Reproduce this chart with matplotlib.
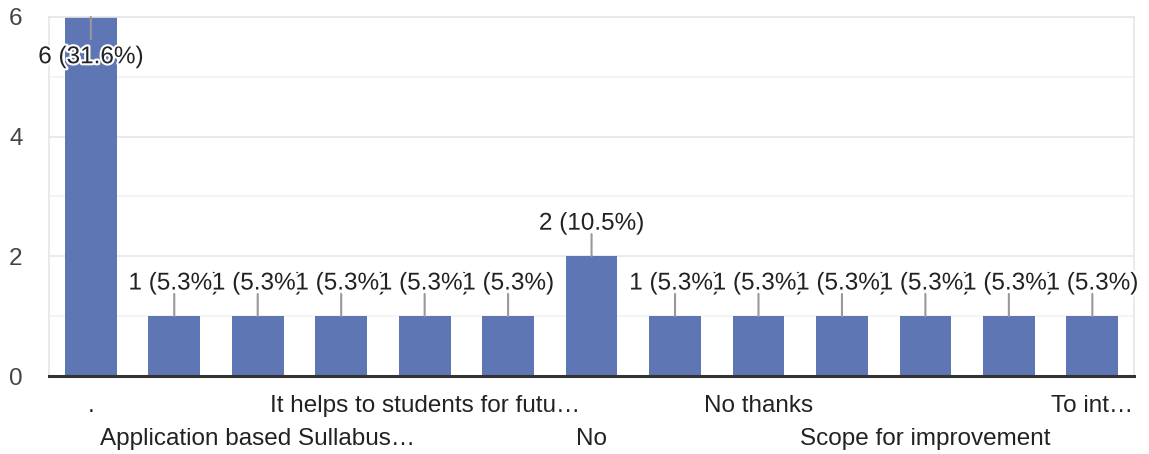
import matplotlib
matplotlib.use("Agg")
import matplotlib.pyplot as plt
import matplotlib.patheffects as pe
import matplotlib.transforms as mtransforms
import numpy as np

categories = [".", "", "Application based Sullabus…", "", "It helps to students for futu…", "",
              "No", "", "No thanks", "", "Scope for improvement", "", "To int…"]
counts = [6, 1, 1, 1, 1, 1, 2, 1, 1, 1, 1, 1, 1]
total = sum(counts)
yticks = [0, 2, 4, 6]

plt.rcParams['font.family'] = ['Liberation Sans', 'DejaVu Sans']

fig = plt.figure(figsize=(11.49, 4.54), dpi=100)
ax = fig.add_axes([0.0427, 0.1718, 0.987 - 0.0427, 0.9626 - 0.1718])

x = np.arange(len(categories))
bar_color = "#5e76b4"
ax.bar(x, counts, width=0.62, color=bar_color, zorder=2)

ax.set_xlim(-0.5, len(categories) - 0.5)
ax.set_ylim(0, 6)
ax.set_yticks(yticks)
ax.set_yticks([1, 3, 5], minor=True)
ax.grid(axis='y', which='major', color='#e6e6e6', lw=1.2, zorder=0)
ax.grid(axis='y', which='minor', color='#f2f2f2', lw=1.2, zorder=0)
ax.tick_params(axis='y', which='both', length=0, pad=19, labelsize=17.5, labelcolor='#444444')

for s in ['left', 'right', 'top']:
    ax.spines[s].set_color('#e6e6e6')
    ax.spines[s].set_linewidth(1.2)
ax.spines['bottom'].set_color('#333333')
ax.spines['bottom'].set_linewidth(2.2)
ax.spines['bottom'].set_zorder(3)

ax.set_xticks(x)
labels = [c if i % 2 == 0 else "" for i, c in enumerate(categories)]
ax.set_xticklabels(labels)
ax.tick_params(axis='x', length=0, pad=14, labelsize=17.5, labelcolor='#222222')
shift = mtransforms.ScaledTranslation(0, -0.325, fig.dpi_scale_trans)
for i, t in enumerate(ax.get_xticklabels()):
    if i % 2 == 0 and (i // 2) % 2 == 1:
        t.set_transform(t.get_transform() + shift)

ymax = max(counts)
for i, v in enumerate(counts):
    inside = v == ymax
    sign = -1 if inside else 1
    ax.annotate("", xy=(i, v), xytext=(0, sign * 16), textcoords='offset points',
                arrowprops=dict(arrowstyle='-', color='#999999', lw=1.5, shrinkA=0, shrinkB=0),
                zorder=4)
    pct = 100 * v / total
    off = -29 if inside else 23.5
    ax.annotate(f"{v} ({pct:.1f}%)", xy=(i, v), xytext=(0, off), textcoords='offset points',
                ha='center', va='center', fontsize=17.5, color='#222222', zorder=5,
                path_effects=[pe.withStroke(linewidth=3, foreground='white')],
                annotation_clip=False)

fig.savefig("out.png", dpi=100)
